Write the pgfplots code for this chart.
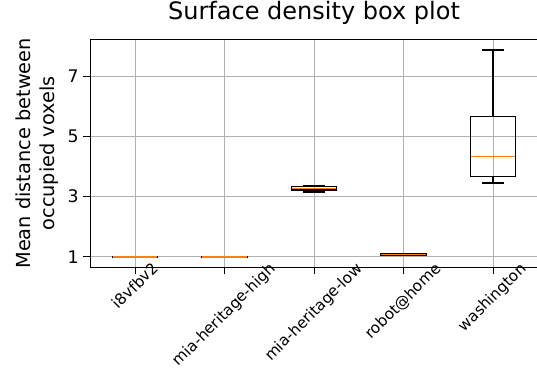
\documentclass[border=0pt]{standalone}
\usepackage{pgfplots}
\pgfplotsset{compat=1.18}
\usepgfplotslibrary{statistics}
\usetikzlibrary{calc}
\usepackage{graphicx}
\usepackage{fontspec}
\setmainfont{DejaVu Sans}
\definecolor{medorange}{HTML}{FF7F0E}
\definecolor{gridgray}{HTML}{B0B0B0}
\begin{document}
\begin{tikzpicture}
\begin{axis}[
 scale only axis, width=335.6pt, height=171pt,
 xmin=0.5, xmax=5.5, ymin=0.65, ymax=8.23,
 xtick={1,2,3,4,5},
 xticklabels={\rotatebox{45}{i8vfbv2},\rotatebox{45}{mia-heritage-high},\rotatebox{45}{mia-heritage-low},\rotatebox{45}{robot@home},\rotatebox{45}{washington}},
 ytick={1,3,5,7},
 grid=major, grid style={gridgray, line width=0.75pt},
 tick align=outside, major tick length=5.25pt,
 tick style={black, line width=0.6pt},
 axis line style={line width=0.75pt},
 xtick pos=lower, ytick pos=left,
 title={Surface density box plot},
 title style={font=\fontsize{18}{21}\selectfont, at={(0.5,1)}, anchor=base, yshift=8.7pt},
 ylabel={Mean distance between\\occupied voxels},
 ylabel style={align=center, font=\fontsize{14.5}{18}\selectfont},
 yticklabel style={font=\fontsize{13}{15}\selectfont},
 xticklabel style={font=\fontsize{11.5}{13}\selectfont, anchor=north, inner sep=0pt, yshift=10pt},
 /pgf/number format/assume math mode=true,
 boxplot/draw direction=y,
 boxplot/box extend=0.5,
 boxplot/whisker extend=0.25,
 boxplot/every median/.style={draw=medorange, line width=1.1pt},
]
\addplot[black, line width=1.1pt, boxplot prepared={draw position=1, lower whisker=0.985, lower quartile=0.99, median=1.0, upper quartile=1.01, upper whisker=1.015}] coordinates {};
\addplot[black, line width=1.1pt, boxplot prepared={draw position=2, lower whisker=0.985, lower quartile=0.99, median=1.0, upper quartile=1.01, upper whisker=1.015}] coordinates {};
\addplot[black, line width=1.1pt, boxplot prepared={draw position=3, lower whisker=3.16, lower quartile=3.22, median=3.28, upper quartile=3.33, upper whisker=3.35}] coordinates {};
\addplot[black, line width=1.1pt, boxplot prepared={draw position=4, lower whisker=1.05, lower quartile=1.06, median=1.08, upper quartile=1.09, upper whisker=1.10}] coordinates {};
\addplot[black, line width=1.1pt, boxplot prepared={draw position=5, lower whisker=3.45, lower quartile=3.67, median=4.33, upper quartile=5.66, upper whisker=7.88}] coordinates {};
\end{axis}
\pgfresetboundingbox
\path[use as bounding box] ($(current axis.south west)+(-67.7pt,-92.6pt)$) rectangle ($(current axis.north east)+(-0.6pt,29.5pt)$);
\end{tikzpicture}
\end{document}
